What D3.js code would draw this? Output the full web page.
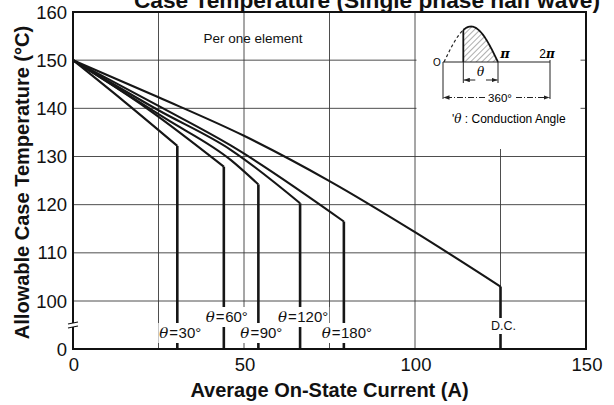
<!DOCTYPE html>
<html>
<head>
<meta charset="utf-8">
<script src="https://cdn.jsdelivr.net/npm/d3@7"></script>
<style>
  body { margin: 0; background: #fff; }
  svg { display: block; font-family: "Liberation Sans", Arial, Helvetica, sans-serif; }
</style>
</head>
<body>
<div id="chart"></div>
<script>
const width = 614;
const height = 405;

// axis values
const currentTicks = [0, 50, 100, 150];
const tempTicks = [0, 100, 110, 120, 130, 140, 150, 160];
const gridCurrent = [25, 50, 75, 100, 125];
const gridTemp = [100, 110, 120, 130, 140, 150];

// derating curves [current A, case temp °C]
const curve30 = [[0, 150], [15, 141.4], [30.5, 132.2]];
const curve60 = [[0, 150], [22, 139.8], [44.1, 127.9]];
const curve90 = [[0, 150], [27, 137.9], [46.1, 129.3], [54.2, 124.2]];
const curve120 = [[0, 150], [25, 139.6], [46.1, 131.4], [66.4, 120.3]];
const curve180 = [[0, 150], [25, 140.5], [46.1, 132.3], [79.2, 116.5]];
const curveDC = [[0, 150], [25, 142.3], [50, 134.3], [75, 124.9], [100, 114.3], [125, 103]];

const curves = [curve30, curve60, curve90, curve120, curve180, curveDC];
const curveAngles = ['30°', '60°', '90°', '120°', '180°', null];
const labelRows = [0, 1, 0, 1, 0, 0.5];

const margin = { left: 73, right: 28, top: 12, bottom: 56 };

const x = d3.scaleLinear()
  .domain([0, 150])
  .range([margin.left, width - margin.right]);

// broken axis: 0 sits one grid step below 100
const y = d3.scaleLinear()
  .domain([0, 100, 160])
  .range([height - margin.bottom, height - margin.bottom - 48, margin.top]);

const svg = d3.select('#chart')
  .append('svg')
  .attr('width', width)
  .attr('height', height);

const defs = svg.append('defs');
defs.append('pattern')
  .attr('id', 'hatch')
  .attr('patternUnits', 'userSpaceOnUse')
  .attr('width', 4)
  .attr('height', 4)
  .attr('patternTransform', 'rotate(45)')
  .append('line')
  .attr('x1', 0).attr('y1', 0)
  .attr('x2', 0).attr('y2', 4)
  .attr('stroke', '#333')
  .attr('stroke-width', 0.8);

defs.append('marker')
  .attr('id', 'arrow')
  .attr('viewBox', '0 0 8 6')
  .attr('refX', 8)
  .attr('refY', 3)
  .attr('markerWidth', 6)
  .attr('markerHeight', 4.5)
  .attr('orient', 'auto-start-reverse')
  .append('path')
  .attr('d', 'M0,0 L8,3 L0,6 Z')
  .attr('fill', '#222');

// title (cut off by the top edge in the original)
svg.append('text')
  .attr('x', 367)
  .attr('y', 8)
  .attr('text-anchor', 'middle')
  .style('font-size', '22.7px')
  .style('font-weight', 'bold')
  .attr('fill', '#111')
  .text('Case Temperature (Single phase half wave)');

// grid
const grid = svg.append('g').attr('class', 'grid')
  .attr('stroke', '#3a3a3a')
  .attr('stroke-width', 0.9);

grid.selectAll('line.gx')
  .data(gridCurrent)
  .join('line')
  .attr('class', 'gx')
  .attr('x1', d => x(d)).attr('x2', d => x(d))
  .attr('y1', y(160)).attr('y2', y(0));

grid.selectAll('line.gy')
  .data(gridTemp)
  .join('line')
  .attr('class', 'gy')
  .attr('x1', x(0)).attr('x2', x(150))
  .attr('y1', d => y(d)).attr('y2', d => y(d));

// curves
const line = d3.line()
  .x(d => x(d[0]))
  .y(d => y(d[1]))
  .curve(d3.curveMonotoneX);

const curveG = svg.append('g').attr('class', 'curves');

curveG.selectAll('path')
  .data(curves)
  .join('path')
  .attr('d', line)
  .attr('fill', 'none')
  .attr('stroke', '#161616')
  .attr('stroke-width', 2.1)
  .attr('stroke-linejoin', 'round');

curveG.selectAll('line.drop')
  .data(curves)
  .join('line')
  .attr('class', 'drop')
  .attr('x1', d => x(d[d.length - 1][0]))
  .attr('x2', d => x(d[d.length - 1][0]))
  .attr('y1', d => y(d[d.length - 1][1]))
  .attr('y2', y(0))
  .attr('stroke', '#161616')
  .attr('stroke-width', 2.6);

// angle labels with white backing that breaks the lines
const labelG = svg.append('g').attr('class', 'labels');

curves.forEach((c, i) => {
  const end = c[c.length - 1];
  const g = labelG.append('g');
  const t = g.append('text')
    .attr('x', x(end[0]) + 3)
    .attr('y', y(0) - 11 - labelRows[i] * 16)
    .attr('text-anchor', 'middle')
    .attr('fill', '#111');
  if (curveAngles[i]) {
    t.style('font-size', '15px');
    t.append('tspan').style('font-style', 'italic').style('font-family', '"DejaVu Serif", serif').text('θ');
    t.append('tspan').attr('dx', 1).text('=');
    t.append('tspan').attr('dx', 0.5).text(curveAngles[i]);
  } else {
    t.style('font-size', '12.5px').text('D.C.');
  }
  const bb = t.node().getBBox();
  g.insert('rect', 'text')
    .attr('x', bb.x - 1)
    .attr('y', bb.y - 1)
    .attr('width', bb.width + 2)
    .attr('height', bb.height + 2)
    .attr('fill', '#fff');
});

// inset box (white panel hiding grid)
const inset = svg.append('g').attr('class', 'inset');
inset.append('rect')
  .attr('x', x(100) + 1.5)
  .attr('y', y(160) + 1)
  .attr('width', x(150) - x(100) - 7)
  .attr('height', 136)
  .attr('fill', '#fff');

// half-wave sketch
const w0 = 444, wPi = 498, wBase = 62, wAmp = 35.5, w2Pi = 550;
const fire = 463.3;
const sx = d3.scaleLinear().domain([0, Math.PI]).range([w0, wPi]);
const waveLine = d3.line().x(d => sx(d)).y(d => wBase - wAmp * Math.sin(d));
const fireAng = sx.invert(fire);
const dashPts = d3.range(0, fireAng, 0.05).concat([fireAng]);
const solidPts = d3.range(fireAng, Math.PI, 0.05).concat([Math.PI]);

inset.append('path')
  .attr('d', waveLine(solidPts) + `L${fire},${wBase}Z`)
  .attr('fill', 'url(#hatch)')
  .attr('stroke', 'none');
inset.append('path')
  .attr('d', waveLine(dashPts))
  .attr('fill', 'none')
  .attr('stroke', '#222')
  .attr('stroke-width', 1.2)
  .attr('stroke-dasharray', '3,2.5');
inset.append('path')
  .attr('d', waveLine(solidPts))
  .attr('fill', 'none')
  .attr('stroke', '#111')
  .attr('stroke-width', 1.8);
inset.append('line')
  .attr('x1', fire).attr('x2', fire)
  .attr('y1', wBase).attr('y2', wBase - wAmp * Math.sin(fireAng))
  .attr('stroke', '#111').attr('stroke-width', 1.8);

const thin = (x1, y1, x2, y2) => inset.append('line')
  .attr('x1', x1).attr('y1', y1).attr('x2', x2).attr('y2', y2)
  .attr('stroke', '#222').attr('stroke-width', 1);

thin(w0 - 1, wBase, w2Pi, wBase);
thin(w0 - 1, wBase, w0 - 1, 99);
thin(w2Pi, wBase - 2, w2Pi, 99);
thin(fire, wBase, fire, 83);
thin(wPi, wBase, wPi, 83);

// theta dimension
inset.append('line')
  .attr('x1', fire + 12).attr('y1', 80).attr('x2', fire + 0.5).attr('y2', 80)
  .attr('stroke', '#222').attr('marker-end', 'url(#arrow)');
inset.append('line')
  .attr('x1', wPi - 12).attr('y1', 80).attr('x2', wPi - 0.5).attr('y2', 80)
  .attr('stroke', '#222').attr('marker-end', 'url(#arrow)');
inset.append('text')
  .attr('x', (fire + wPi) / 2).attr('y', 76)
  .attr('text-anchor', 'middle')
  .style('font-size', '12px').style('font-style', 'italic')
  .style('font-family', '"DejaVu Serif", serif')
  .text('θ');

// 360 degree dimension
inset.append('line')
  .attr('x1', 485).attr('y1', 97.5).attr('x2', w0 - 0.5).attr('y2', 97.5)
  .attr('stroke', '#222').attr('stroke-dasharray', '6,2,1,2')
  .attr('marker-end', 'url(#arrow)');
inset.append('line')
  .attr('x1', 516).attr('y1', 97.5).attr('x2', w2Pi - 0.5).attr('y2', 97.5)
  .attr('stroke', '#222').attr('stroke-dasharray', '6,2,1,2')
  .attr('marker-end', 'url(#arrow)');
inset.append('text')
  .attr('x', 500).attr('y', 101.5)
  .attr('text-anchor', 'middle')
  .style('font-size', '11.5px')
  .text('360°');

inset.append('text')
  .attr('x', w0 - 7).attr('y', 66)
  .attr('text-anchor', 'middle')
  .style('font-size', '10px')
  .text('O');
inset.append('text')
  .attr('x', wPi + 7).attr('y', 58)
  .attr('text-anchor', 'middle')
  .style('font-size', '13px').style('font-style', 'italic').style('font-weight', 'bold')
  .style('font-family', '"DejaVu Serif", serif')
  .text('π');
inset.append('text')
  .attr('x', w2Pi - 3).attr('y', 58)
  .attr('text-anchor', 'middle')
  .style('font-size', '12px')
  .html('2<tspan style="font-style:italic;font-family:\'DejaVu Serif\',serif;font-weight:bold">π</tspan>');
inset.append('text')
  .attr('x', 452).attr('y', 123)
  .style('font-size', '12px')
  .html('\'<tspan style="font-style:italic;font-family:\'DejaVu Serif\',serif">θ</tspan> : Conduction Angle');

// per one element
svg.append('text')
  .attr('x', 253)
  .attr('y', 43)
  .attr('text-anchor', 'middle')
  .style('font-size', '13.5px')
  .attr('fill', '#111')
  .text('Per one element');

// frame
svg.append('rect')
  .attr('x', x(0)).attr('y', y(160))
  .attr('width', x(150) - x(0))
  .attr('height', y(0) - y(160))
  .attr('fill', 'none')
  .attr('stroke', '#111')
  .attr('stroke-width', 2);

// axis break on the temperature axis
const yb = y(50);
svg.append('rect')
  .attr('x', x(0) - 3).attr('y', yb - 2)
  .attr('width', 6).attr('height', 4)
  .attr('fill', '#fff');
svg.append('path')
  .attr('d', `M${x(0) - 5},${yb - 1} L${x(0) + 5},${yb - 3} M${x(0) - 5},${yb + 3} L${x(0) + 5},${yb + 1}`)
  .attr('stroke', '#111')
  .attr('stroke-width', 1.2);

// tick labels
svg.append('g')
  .selectAll('text')
  .data(tempTicks)
  .join('text')
  .attr('x', x(0) - 6)
  .attr('y', d => y(d))
  .attr('dy', '0.36em')
  .attr('text-anchor', 'end')
  .style('font-size', '18.5px')
  .attr('fill', '#111')
  .text(d => d);

svg.append('g')
  .selectAll('text')
  .data(currentTicks)
  .join('text')
  .attr('x', d => x(d) + 1)
  .attr('y', y(0) + 22)
  .attr('text-anchor', 'middle')
  .style('font-size', '18.5px')
  .attr('fill', '#111')
  .text(d => d);

// axis titles
svg.append('text')
  .attr('x', (x(0) + x(150)) / 2)
  .attr('y', 397)
  .attr('text-anchor', 'middle')
  .style('font-size', '20px')
  .style('font-weight', 'bold')
  .attr('fill', '#111')
  .text('Average On-State Current (A)');

svg.append('text')
  .attr('transform', `translate(29,${(y(160) + y(0)) / 2 + 2}) rotate(-90)`)
  .attr('text-anchor', 'middle')
  .style('font-size', '20px')
  .style('font-weight', 'bold')
  .attr('fill', '#111')
  .text('Allowable Case Temperature (°C)');
</script>
</body>
</html>
